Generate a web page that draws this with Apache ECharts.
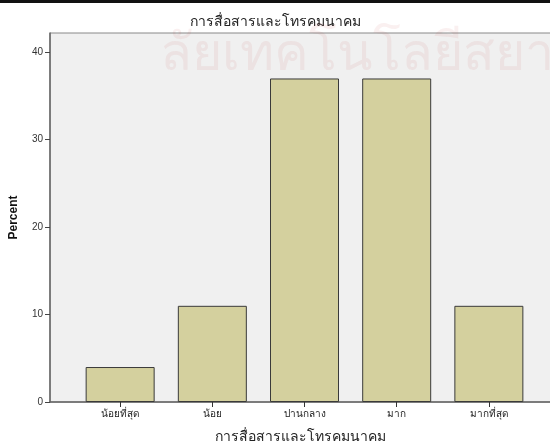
<!DOCTYPE html>
<html>
<head>
<meta charset="utf-8">
<script src="https://cdn.jsdelivr.net/npm/echarts@6/dist/echarts.min.js"></script>
<style>html,body{margin:0;padding:0;background:#fff}#c{width:550px;height:445px}</style>
</head>
<body>
<div id="c"></div>
<script>
const chartTitle = 'การสื่อสารและโทรคมนาคม';
const categories = ['น้อยที่สุด', 'น้อย', 'ปานกลาง', 'มาก', 'มากที่สุด'];
const percentValues = [4, 11, 37, 37, 11];
const yTicks = [0, 10, 20, 30, 40];
const yAxisName = 'Percent';
const xAxisName = 'การสื่อสารและโทรคมนาคม';
const watermarkText = 'ลัยเทคโนโลยีสยาม';

const chart = echarts.init(document.getElementById('c'), null, {renderer: 'canvas'});
const idx = categories.map((c, i) => i);
chart.setOption({
  animation: false,
  backgroundColor: '#ffffff',
  title: {
    text: chartTitle, left: 'center', top: 10,
    textStyle: {fontSize: 14, fontWeight: 'normal', color: '#222', fontFamily: 'sans-serif'}
  },
  graphic: [
    {type: 'rect', shape: {x: 0, y: 0, width: 550, height: 3}, style: {fill: '#111'}, z: 0},
    {type: 'text', x: 160, y: 30, rotation: 0, z: 100, silent: true,
     style: {text: watermarkText, fontSize: 52, fill: 'rgba(190,60,60,0.08)', fontFamily: 'sans-serif'}}
  ],
  grid: {
    left: 50, right: -1, top: 33, bottom: 43,
    outerBoundsMode: 'none', containLabel: false,
    show: true, backgroundColor: '#f0f0f0', borderColor: '#888', borderWidth: 1
  },
  xAxis: {
    type: 'value', min: -0.761, max: 4.674,
    name: xAxisName, nameLocation: 'middle', nameGap: 28,
    nameTextStyle: {fontSize: 14, color: '#222'},
    axisLine: {show: true, onZero: false, lineStyle: {color: '#666', width: 1.5}},
    axisTick: {show: true, length: 5, lineStyle: {color: '#333'}, customValues: idx},
    axisLabel: {customValues: idx, formatter: v => categories[Math.round(v)] || '', fontSize: 10, color: '#222', margin: 7},
    splitLine: {show: false}
  },
  yAxis: {
    type: 'value', min: 0, max: 42.2,
    name: yAxisName, nameLocation: 'middle', nameGap: 30, nameRotate: 90,
    nameTextStyle: {fontSize: 12, fontWeight: 'bold', color: '#111'},
    axisLine: {show: true, onZero: false, lineStyle: {color: '#666', width: 1.5}},
    axisTick: {show: true, length: 5, lineStyle: {color: '#444'}, customValues: yTicks},
    axisLabel: {customValues: yTicks, fontSize: 10, color: '#333', margin: 7},
    splitLine: {show: false}
  },
  series: [{
    type: 'bar',
    data: percentValues.map((v, i) => [idx[i], v]),
    barWidth: 69,
    itemStyle: {color: '#d4d09e', borderColor: '#3a3a3a', borderWidth: 1}
  }]
});
</script>
</body>
</html>
